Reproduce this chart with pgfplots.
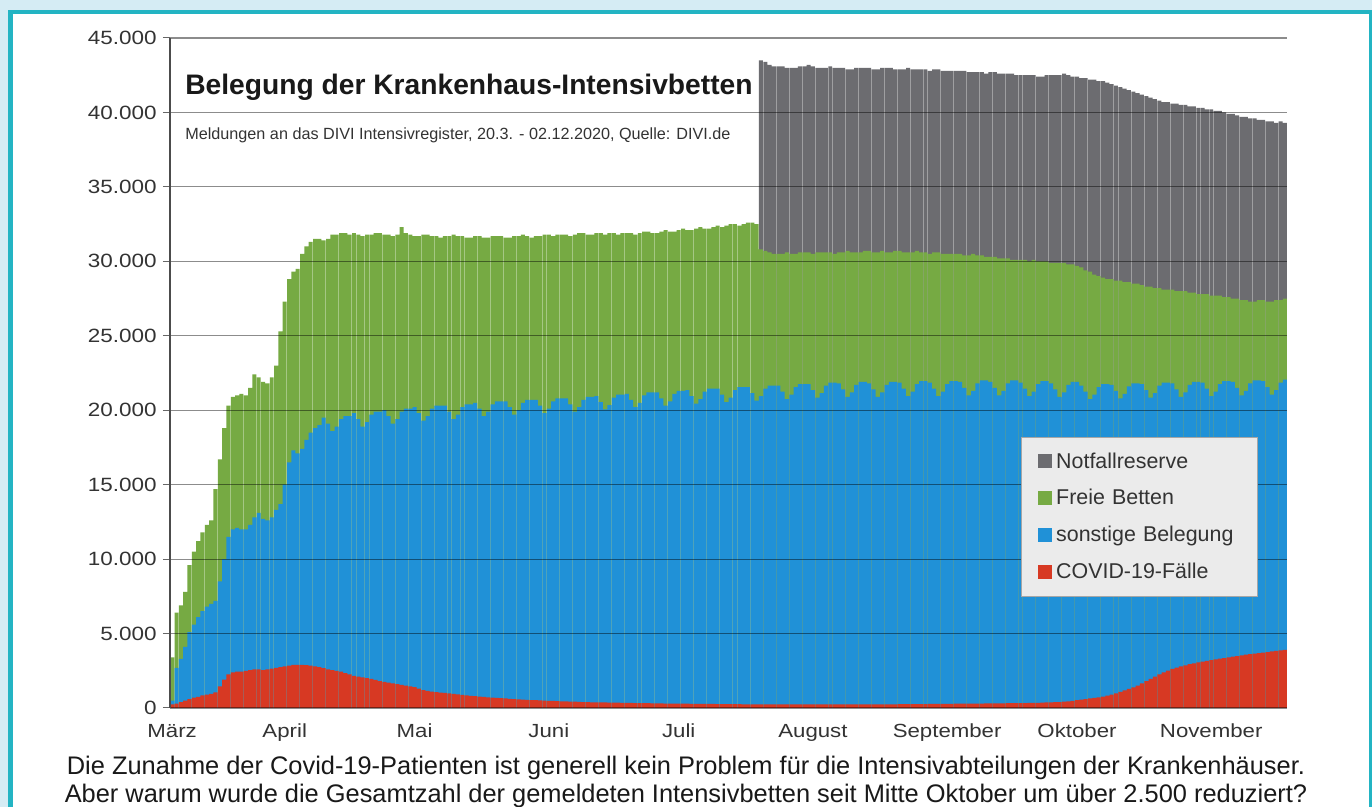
\documentclass[border=0pt]{standalone}
\usepackage{pgfplots}
\pgfplotsset{compat=1.18}
\usepackage{pgfplotstable}
\usepackage{fontspec}
\setmainfont{Liberation Sans}
\newfontfamily\wsans{Liberation Sans}[FakeStretch=1.17]
\definecolor{cbg}{HTML}{D5ECF4}
\definecolor{cframe}{HTML}{23B4C3}
\definecolor{cgray}{HTML}{6C6C70}
\definecolor{cgreen}{HTML}{76AA43}
\definecolor{cblue}{HTML}{2091D7}
\definecolor{cred}{HTML}{D73923}
\definecolor{ctext}{HTML}{333333}
% d = Tag ab 20.3.2020; k = Gesamt inkl. Notfallreserve; g = Gesamt ohne Reserve; b = belegt gesamt; r = COVID-19
\pgfplotstableread{
d k g b r
0 0 3400 500 250
1 0 6400 2700 300
2 0 6900 3300 400
3 0 7800 4100 500
4 0 9600 5100 600
5 0 10500 5600 700
6 0 11200 6100 750
7 0 11800 6500 850
8 0 12300 6800 900
9 0 12600 7000 950
10 0 14700 7200 1050
11 0 16700 8500 1450
12 0 18800 10000 1900
13 0 20300 11500 2250
14 0 20900 12000 2400
15 0 21000 12100 2450
16 0 21100 12000 2450
17 0 21000 12000 2500
18 0 21500 12300 2550
19 0 22400 12800 2600
20 0 22200 13100 2600
21 0 21900 12700 2550
22 0 21800 12600 2600
23 0 22200 12800 2650
24 0 23000 13300 2700
25 0 25300 13700 2750
26 0 27300 15000 2800
27 0 28800 16500 2850
28 0 29300 17300 2900
29 0 29500 17100 2900
30 0 30500 17400 2900
31 0 31000 18000 2880
32 0 31300 18500 2850
33 0 31500 18800 2800
34 0 31500 19000 2750
35 0 31400 19500 2680
36 0 31500 19100 2600
37 0 31800 18600 2550
38 0 31800 18900 2500
39 0 31900 19400 2450
40 0 31900 19600 2350
41 0 31800 19600 2250
42 0 31900 19800 2150
43 0 31800 19400 2100
44 0 31700 18900 2050
45 0 31800 19200 2000
46 0 31800 19700 1950
47 0 31900 19900 1880
48 0 31900 19900 1800
49 0 31800 20000 1750
50 0 31800 19600 1700
51 0 31700 19100 1650
52 0 31800 19400 1600
53 0 32300 19900 1550
54 0 31900 20100 1500
55 0 31800 20100 1450
56 0 31700 20200 1400
57 0 31700 19800 1300
58 0 31800 19300 1200
59 0 31800 19600 1150
60 0 31700 20100 1100
61 0 31700 20300 1070
62 0 31600 20300 1040
63 0 31700 20300 1010
64 0 31700 19900 980
65 0 31800 19400 950
66 0 31700 19700 920
67 0 31700 20200 880
68 0 31600 20400 850
69 0 31600 20400 820
70 0 31700 20500 790
71 0 31700 20100 770
72 0 31600 19600 750
73 0 31600 19900 720
74 0 31700 20400 700
75 0 31700 20600 680
76 0 31700 20600 660
77 0 31600 20600 640
78 0 31600 20200 620
79 0 31700 19700 600
80 0 31700 20000 580
81 0 31800 20500 565
82 0 31700 20700 550
83 0 31600 20700 535
84 0 31700 20700 520
85 0 31700 20300 505
86 0 31800 19800 490
87 0 31800 20100 480
88 0 31700 20600 470
89 0 31800 20800 460
90 0 31800 20800 450
91 0 31800 20800 440
92 0 31700 20400 430
93 0 31800 19900 420
94 0 31900 20200 410
95 0 31900 20700 400
96 0 31800 20900 390
97 0 31800 20900 385
98 0 31900 20950 380
99 0 31900 20550 375
100 0 31800 20050 370
101 0 31900 20350 365
102 0 31900 20850 360
103 0 31800 21050 355
104 0 31900 21050 350
105 0 31900 21100 345
106 0 31900 20700 340
107 0 31800 20200 335
108 0 31900 20500 330
109 0 32000 21000 325
110 0 32000 21200 320
111 0 31900 21200 315
112 0 31900 21200 310
113 0 32000 20800 305
114 0 32100 20300 300
115 0 32000 20600 300
116 0 32000 21100 295
117 0 32100 21300 290
118 0 32200 21300 290
119 0 32100 21350 285
120 0 32100 20950 280
121 0 32200 20450 280
122 0 32300 20750 275
123 0 32200 21250 275
124 0 32200 21450 270
125 0 32300 21450 270
126 0 32400 21450 265
127 0 32300 21050 265
128 0 32400 20550 260
129 0 32500 20850 260
130 0 32500 21350 255
131 0 32400 21550 255
132 0 32500 21550 250
133 0 32600 21550 250
134 0 32600 21150 250
135 0 32500 20650 245
136 43500 30800 20950 245
137 43400 30700 21450 245
138 43200 30600 21650 240
139 43100 30500 21650 240
140 43100 30500 21650 240
141 43100 30500 21250 240
142 43000 30600 20750 235
143 43000 30500 21050 235
144 43000 30500 21550 235
145 43100 30600 21750 235
146 43100 30600 21750 235
147 43200 30600 21750 235
148 43100 30500 21350 235
149 43000 30600 20850 235
150 43000 30600 21150 235
151 43000 30600 21650 235
152 43100 30600 21850 235
153 43000 30500 21850 235
154 43000 30600 21800 235
155 43000 30600 21400 240
156 42900 30700 20900 240
157 42900 30600 21200 240
158 43000 30600 21700 240
159 43000 30600 21900 240
160 43000 30700 21900 245
161 43000 30700 21800 245
162 42900 30600 21400 245
163 42900 30600 20900 245
164 43000 30700 21200 250
165 43000 30600 21700 250
166 43000 30600 21900 250
167 42900 30700 21900 250
168 42900 30700 21850 255
169 42900 30600 21450 255
170 43000 30600 20950 255
171 42900 30600 21250 260
172 42900 30700 21750 260
173 42900 30600 21950 265
174 42900 30600 21950 265
175 42800 30500 21850 270
176 42900 30600 21450 270
177 42900 30600 20950 275
178 42800 30500 21250 275
179 42800 30500 21750 280
180 42800 30500 21950 280
181 42800 30500 21950 285
182 42800 30500 21900 285
183 42800 30400 21500 290
184 42700 30400 21000 290
185 42700 30500 21300 295
186 42700 30400 21800 300
187 42700 30400 22000 300
188 42600 30300 22000 305
189 42700 30300 21900 305
190 42700 30300 21500 310
191 42600 30200 21000 310
192 42600 30200 21300 315
193 42600 30200 21800 320
194 42600 30100 22000 320
195 42500 30100 22000 325
196 42500 30100 21850 330
197 42500 30100 21450 335
198 42500 30000 20950 340
199 42500 30100 21250 345
200 42400 30000 21750 350
201 42400 30000 21950 360
202 42500 30000 21950 370
203 42500 29900 21800 380
204 42500 29900 21400 390
205 42500 29900 20900 400
206 42600 29900 21200 420
207 42500 29800 21700 440
208 42400 29800 21900 480
209 42400 29700 21900 520
210 42300 29600 21650 560
211 42300 29400 21250 600
212 42200 29300 20750 640
213 42200 29100 21050 680
214 42100 29000 21550 720
215 42100 28900 21750 770
216 42000 28800 21750 830
217 41900 28800 21700 900
218 41800 28700 21300 990
219 41700 28700 20800 1080
220 41600 28600 21100 1180
221 41500 28600 21600 1280
222 41400 28500 21800 1390
223 41300 28500 21800 1500
224 41200 28400 21750 1650
225 41100 28300 21350 1800
226 41000 28300 20850 1950
227 40900 28200 21150 2100
228 40800 28200 21650 2250
229 40700 28100 21850 2400
230 40700 28100 21850 2510
231 40600 28100 21800 2620
232 40600 28000 21400 2710
233 40500 28000 20900 2800
234 40500 28000 21200 2870
235 40400 27900 21700 2940
236 40400 27900 21900 3000
237 40300 27800 21900 3060
238 40300 27800 21850 3110
239 40200 27800 21450 3160
240 40200 27700 20950 3220
241 40100 27700 21250 3260
242 40100 27700 21750 3310
243 40000 27600 21950 3350
244 39900 27600 21950 3400
245 39900 27500 21900 3450
246 39800 27500 21500 3490
247 39700 27400 21000 3540
248 39700 27400 21300 3580
249 39600 27300 21800 3610
250 39600 27300 22000 3650
251 39500 27400 22000 3690
252 39500 27400 21950 3720
253 39400 27300 21550 3760
254 39400 27300 21050 3800
255 39300 27400 21350 3830
256 39400 27400 21850 3870
257 39300 27500 22050 3900
}\datatable

\begin{document}
\begin{tikzpicture}
\useasboundingbox (0,0) rectangle (686pt,403.5pt);
\fill[cbg] (0,0) rectangle (686pt,403.5pt);
\fill[white] (5.25pt,-10pt) rectangle (685.5pt,397.5pt);
\draw[cframe, line width=2.4pt] (5.25pt,-10pt) -- (5.25pt,397.5pt) -- (685.5pt,397.5pt) -- (685.5pt,-10pt);
\begin{axis}[
  at={(85pt,49.5pt)}, anchor=south west,
  scale only axis, width=558.5pt, height=335pt,
  xmin=-0.5, xmax=257.5, ymin=0, ymax=45000,
  scaled y ticks=false,
  axis lines*=left,
  x axis line style={draw=none},
  y axis line style={draw=black!70, line width=0.6pt},
  axis on top,
  ymajorgrids,
  major grid style={draw=black, draw opacity=0.45, line width=0.55pt},
  ytick={0,5000,10000,15000,20000,25000,30000,35000,40000,45000},
  yticklabels={0,5.000,10.000,15.000,20.000,25.000,30.000,35.000,40.000,45.000},
  xtick={0,26,56,87,117,148,179,209,240},
  xticklabels={März,April,Mai,Juni,Juli,August,September,Oktober,November},
  tick align=outside,
  major tick length=3.5pt,
  ytick style={draw=black!60, line width=0.5pt},
  xtick style={draw=none},
  yticklabel style={font=\wsans\fontsize{9.6}{11}\selectfont, text=ctext, anchor=east, inner sep=0pt, xshift=-3pt},
  xticklabel style={font=\wsans\fontsize{9.5}{11}\selectfont, text=ctext, anchor=base, inner sep=0pt, yshift=-11.5pt},
  legend style={at={(0.7615,0.4045)}, anchor=north west, fill=black!8, draw=black!35, line width=0.6pt,
    font=\fontsize{10.7}{12}\selectfont, text=ctext, inner xsep=8.5pt, inner ysep=5.5pt, row sep=5.2pt},
  legend cell align=left,
]
\addplot[ybar, bar width=0.92, bar shift=0pt, fill=cgray, draw=none,
  legend image code/.code={\fill[cgray] (0pt,-3.3pt) rectangle (7pt,3.7pt);}] table[x=d, y=k] {\datatable};
\addlegendentry[text width=90pt]{Notfallreserve}
\addplot[ybar, bar width=0.92, bar shift=0pt, fill=cgreen, draw=none,
  legend image code/.code={\fill[cgreen] (0pt,-3.3pt) rectangle (7pt,3.7pt);}] table[x=d, y=g] {\datatable};
\addlegendentry[text width=90pt]{Freie Betten}
\addplot[ybar, bar width=0.92, bar shift=0pt, fill=cblue, draw=none,
  legend image code/.code={\fill[cblue] (0pt,-3.3pt) rectangle (7pt,3.7pt);}] table[x=d, y=b] {\datatable};
\addlegendentry[text width=90pt]{sonstige Belegung}
\addplot[ybar, bar width=0.92, bar shift=0pt, fill=cred, draw=none,
  legend image code/.code={\fill[cred] (0pt,-3.3pt) rectangle (7pt,3.7pt);}] table[x=d, y=r] {\datatable};
\addlegendentry[text width=90pt]{COVID-19-Fälle}
\node[anchor=base west, inner sep=0pt, font=\bfseries\fontsize{14.1}{16}\selectfont, text=black!90] at (rel axis cs:0.0134,0.9164) {Belegung der Krankenhaus-Intensivbetten};
\node[anchor=base west, inner sep=0pt, font=\fontsize{8.1}{10}\selectfont, text=ctext] at (rel axis cs:0.0134,0.8478) {Meldungen an das DIVI Intensivregister, 20.3. - 02.12.2020, Quelle: DIVI.de};
\end{axis}
\node[anchor=base, inner sep=0pt, font=\fontsize{12.7}{14}\selectfont, text=black!90] at (343pt,16pt) {Die Zunahme der Covid-19-Patienten ist generell kein Problem für die Intensivabteilungen der Krankenhäuser.};
\node[anchor=base, inner sep=0pt, font=\fontsize{12.7}{14}\selectfont, text=black!90] at (343pt,2pt) {Aber warum wurde die Gesamtzahl der gemeldeten Intensivbetten seit Mitte Oktober um über 2.500 reduziert?};
\end{tikzpicture}
\end{document}
